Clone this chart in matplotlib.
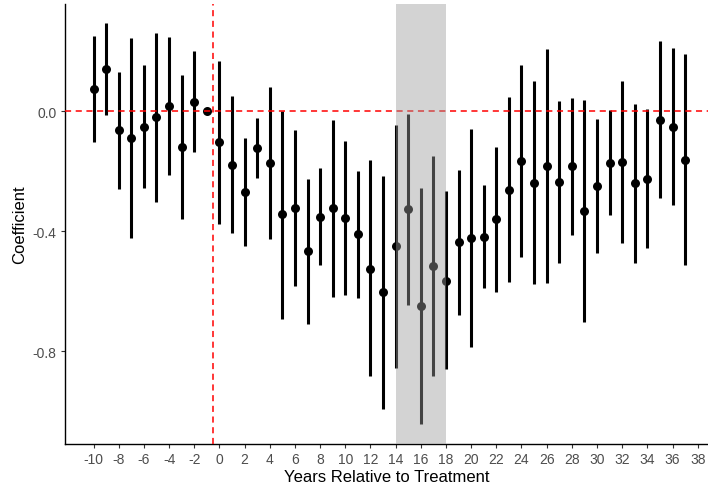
import matplotlib
matplotlib.use("Agg")
import matplotlib.pyplot as plt
import numpy as np

plt.rcParams['font.family'] = ['Liberation Sans', 'DejaVu Sans']

years = list(range(-10, 38))
coef = [0.074, 0.140, -0.063, -0.089, -0.051, -0.020, 0.018, -0.118, 0.032, 0.0,
        -0.103, -0.178, -0.269, -0.122, -0.172, -0.343, -0.322, -0.467, -0.351, -0.322,
        -0.356, -0.410, -0.524, -0.603, -0.449, -0.327, -0.648, -0.517, -0.564, -0.437,
        -0.422, -0.418, -0.360, -0.261, -0.167, -0.238, -0.182, -0.236, -0.182, -0.333,
        -0.249, -0.171, -0.170, -0.240, -0.225, -0.028, -0.051, -0.161]
upper = [0.250, 0.293, 0.131, 0.243, 0.154, 0.261, 0.248, 0.121, 0.201, 0.0,
         0.168, 0.052, -0.090, -0.022, 0.080, 0.002, -0.063, -0.226, -0.190, -0.030,
         -0.100, -0.199, -0.163, -0.216, -0.045, -0.010, -0.256, -0.149, -0.267, -0.197,
         -0.058, -0.246, -0.119, 0.047, 0.154, 0.100, 0.207, 0.033, 0.045, 0.039,
         -0.026, 0.004, 0.101, 0.024, 0.007, 0.234, 0.211, 0.190]
lower = [-0.101, -0.012, -0.259, -0.422, -0.257, -0.301, -0.213, -0.358, -0.137, 0.0,
         -0.375, -0.407, -0.448, -0.222, -0.426, -0.692, -0.582, -0.709, -0.512, -0.618,
         -0.612, -0.622, -0.883, -0.991, -0.855, -0.644, -1.041, -0.883, -0.860, -0.678,
         -0.787, -0.590, -0.601, -0.570, -0.487, -0.577, -0.571, -0.505, -0.412, -0.703,
         -0.472, -0.346, -0.440, -0.507, -0.457, -0.290, -0.311, -0.512]
band = (14, 18)
xticks = list(range(-10, 39, 2))
yticks = [0.0, -0.4, -0.8]

fig = plt.figure(figsize=(7.08, 4.89), dpi=100)
W, H = 708, 489
ax = fig.add_axes([64.6 / W, (H - 444.7) / H, (708 - 64.6) / W, (444.7 - 4.7) / H])

ax.vlines(years, lower, upper, color='black', linewidth=2.2, zorder=2)
ax.scatter(years, coef, s=42, color='black', zorder=3, linewidths=0)

ax.axhline(0, color='#ff0000', linestyle=(0, (4, 3)), linewidth=1.1, zorder=4)
ax.axvline(-0.5, color='#ff0000', linestyle=(0, (4, 3)), linewidth=1.1, zorder=4)
ax.axvspan(band[0], band[1], facecolor=(155/255, 155/255, 155/255), alpha=0.44,
           edgecolor='none', zorder=5)

ax.set_xlim(-12.3, 38.82)
ax.set_ylim(-1.108, 0.359)
ax.set_xticks(xticks)
ax.set_xticklabels([str(v) for v in xticks])
ax.set_yticks(yticks)
ax.set_yticklabels([f"{v:.1f}" for v in yticks])

for s in ['top', 'right']:
    ax.spines[s].set_visible(False)
for s in ['left', 'bottom']:
    ax.spines[s].set_linewidth(1.0)
    ax.spines[s].set_color('black')

ax.tick_params(axis='both', length=3, width=0.8, color='#333333', labelcolor='#4d4d4d',
               labelsize=10, pad=3)
ax.set_xlabel('Years Relative to Treatment', fontsize=12, color='black', labelpad=2)
ax.set_ylabel('Coefficient', fontsize=12, color='black', labelpad=4)

fig.savefig('out.png', dpi=100)
